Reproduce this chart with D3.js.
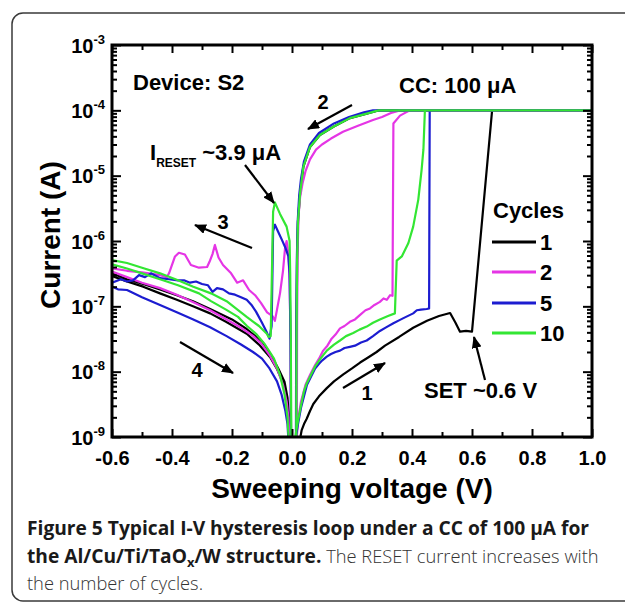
<!DOCTYPE html>
<html>
<head>
<meta charset="utf-8">
<script src="https://cdn.jsdelivr.net/npm/d3@7/dist/d3.min.js"></script>
<style>
  body { margin: 0; background: #fff; }
  text { font-family: "Liberation Sans", Arial, sans-serif; }
  text.cap, text.cap tspan { font-family: "Open Sans", "Noto Sans", sans-serif; }
</style>
</head>
<body>
<svg id="chart" width="625" height="603"></svg>
<script>
// legend entries
var cycleNames = ["1", "2", "5", "10"];
var cycleColors = ["#000000", "#e535e5", "#1c1cd0", "#33e633"];

// axis ticks
var xMajor = [-0.6, -0.4, -0.2, 0.0, 0.2, 0.4, 0.6, 0.8, 1.0];
var xMinor = [-0.5, -0.3, -0.1, 0.1, 0.3, 0.5, 0.7, 0.9];
var yDecades = [1e-9, 1e-8, 1e-7, 1e-6, 1e-5, 1e-4, 1e-3];

// [voltage (V), current (A)], in sweep order
// cycle 1 (black)
var cycle1Pos = [[0.025,6.3e-10],[0.028,1e-9],[0.032,1.26e-9],[0.04,1.58e-9],[0.049,1.9e-9],[0.06,2.5e-9],
  [0.071,3.2e-9],[0.09,4.2e-9],[0.116,5.6e-9],[0.14,7.1e-9],[0.171,9.1e-9],[0.2,1.12e-8],[0.227,1.38e-8],
  [0.255,1.66e-8],[0.282,2.0e-8],[0.31,2.5e-8],[0.357,3.4e-8],[0.404,4.7e-8],[0.45,6.0e-8],[0.49,7.1e-8],
  [0.527,7.9e-8],[0.545,5.6e-8],[0.56,4.1e-8],[0.58,4.2e-8],[0.6,4.1e-8],[0.667,1e-4],[1.0,1e-4],[0.29,1e-4],
  [0.282,9.8e-5],[0.249,8.9e-5],[0.193,7.6e-5],[0.138,5.6e-5],[0.093,4.2e-5],[0.06,2.75e-5],[0.038,1.38e-5],
  [0.027,5.4e-6],[0.02,2.0e-6],[0.017,5.0e-7],[0.015,3.2e-8],[0.014,6.3e-10]];
var cycle1Neg = [[-0.007,6.3e-10],[-0.01,2.0e-9],[-0.015,4.0e-9],[-0.025,7.0e-9],[-0.045,1.1e-8],[-0.07,1.8e-8],
  [-0.1,2.9e-8],[-0.151,4.5e-8],[-0.2,6.3e-8],[-0.273,9.1e-8],[-0.33,1.2e-7],[-0.384,1.48e-7],[-0.44,1.82e-7],
  [-0.496,2.2e-7],[-0.55,2.6e-7],[-0.6,3.2e-7],[-0.6,2.9e-7],[-0.55,2.4e-7],[-0.496,2.0e-7],[-0.44,1.58e-7],
  [-0.384,1.26e-7],[-0.33,1.0e-7],[-0.273,7.8e-8],[-0.22,5.8e-8],[-0.151,3.8e-8],[-0.11,2.6e-8],[-0.073,1.66e-8],
  [-0.05,1.1e-8],[-0.029,6.6e-9],[-0.018,4.0e-9],[-0.013,2.5e-9],[-0.009,1.41e-9],[-0.007,6.3e-10]];

// cycle 2 (magenta)
var cycle2Pos = [[0.013,6.3e-10],[0.016,1e-9],[0.02,1.78e-9],[0.03,3.5e-9],[0.045,6.3e-9],[0.06,8.9e-9],
  [0.077,1.26e-8],[0.09,1.58e-8],[0.104,2.1e-8],[0.118,2.5e-8],[0.132,3.2e-8],[0.145,3.7e-8],[0.16,4.6e-8],
  [0.175,5.0e-8],[0.193,5.8e-8],[0.21,6.3e-8],[0.227,7.4e-8],[0.245,8.7e-8],[0.26,9.3e-8],[0.275,1.05e-7],
  [0.293,1.17e-7],[0.305,1.32e-7],[0.316,1.26e-7],[0.327,1.48e-7],[0.335,1.45e-7],[0.338,6.3e-5],[0.36,8.3e-5],
  [0.38,9.3e-5],[0.393,1e-4],[1.0,1e-4],[0.36,1e-4],[0.33,9.1e-5],[0.3,7.9e-5],[0.27,7.1e-5],[0.22,5.8e-5],
  [0.17,4.7e-5],[0.13,3.7e-5],[0.1,3.0e-5],[0.08,2.5e-5],[0.06,1.78e-5],[0.045,1.17e-5],[0.035,7.6e-6],
  [0.027,4.7e-6],[0.022,2.5e-6],[0.019,7.9e-7],[0.017,6.3e-8],[0.016,6.3e-10]];
var cycle2Neg = [[-0.003,6.3e-10],[-0.005,3.2e-8],[-0.008,2.5e-7],[-0.012,6.3e-7],[-0.018,1e-6],[-0.023,7.9e-7],
  [-0.03,3.5e-7],[-0.04,1.58e-7],[-0.05,8.9e-8],[-0.057,6.0e-8],[-0.065,7.1e-8],[-0.083,8.1e-8],[-0.103,1.12e-7],
  [-0.123,1.48e-7],[-0.143,1.78e-7],[-0.163,2.5e-7],[-0.183,2.3e-7],[-0.203,3.2e-7],[-0.23,4.3e-7],[-0.245,5.6e-7],
  [-0.257,8.7e-7],[-0.265,6.3e-7],[-0.275,4.8e-7],[-0.283,4.0e-7],[-0.31,3.9e-7],[-0.337,4.3e-7],[-0.357,6.2e-7],
  [-0.377,6.6e-7],[-0.39,5.8e-7],[-0.41,3.2e-7],[-0.417,2.8e-7],[-0.44,3.0e-7],[-0.5,3.3e-7],[-0.55,3.5e-7],
  [-0.6,3.8e-7],[-0.6,3.4e-7],[-0.55,2.8e-7],[-0.5,2.3e-7],[-0.44,1.9e-7],[-0.384,1.5e-7],[-0.329,1.15e-7],
  [-0.273,8.7e-8],[-0.218,6.3e-8],[-0.17,4.7e-8],[-0.129,3.5e-8],[-0.1,2.6e-8],[-0.073,1.74e-8],[-0.05,1.12e-8],
  [-0.03,6.3e-9],[-0.018,3.5e-9],[-0.012,2.0e-9],[-0.008,6.3e-10]];

// cycle 5 (blue)
var cycle5Pos = [[0.011,6.3e-10],[0.013,1e-9],[0.02,1.58e-9],[0.03,2.8e-9],[0.05,6.3e-9],[0.077,1.12e-8],
  [0.09,1.32e-8],[0.1,1.48e-8],[0.116,1.7e-8],[0.13,1.86e-8],[0.145,2.0e-8],[0.16,2.1e-8],[0.175,2.3e-8],
  [0.193,2.4e-8],[0.21,2.5e-8],[0.23,2.8e-8],[0.249,3.0e-8],[0.27,3.5e-8],[0.293,4.2e-8],[0.315,4.8e-8],
  [0.338,5.5e-8],[0.36,6.2e-8],[0.38,6.9e-8],[0.404,7.8e-8],[0.416,8.7e-8],[0.43,8.9e-8],[0.449,9.1e-8],
  [0.457,9.3e-8],[0.459,1e-4],[1.0,1e-4],[0.27,1e-4],[0.24,9.3e-5],[0.19,7.9e-5],[0.14,6.3e-5],[0.09,4.5e-5],
  [0.06,3.0e-5],[0.04,1.66e-5],[0.03,8.9e-6],[0.024,5.0e-6],[0.019,2.0e-6],[0.016,5.0e-7],[0.014,3.2e-8],
  [0.013,6.3e-10]];
var cycle5Neg = [[-0.003,6.3e-10],[-0.005,3.2e-8],[-0.008,3.2e-7],[-0.012,5.8e-7],[-0.022,7.9e-7],[-0.034,1.05e-6],
  [-0.047,1.41e-6],[-0.057,1.78e-6],[-0.063,1.41e-6],[-0.068,5.0e-8],[-0.075,3.2e-8],[-0.084,4.0e-8],[-0.1,5.6e-8],
  [-0.12,8.3e-8],[-0.135,1.05e-7],[-0.151,1.26e-7],[-0.17,1.38e-7],[-0.19,1.51e-7],[-0.21,1.58e-7],[-0.23,1.82e-7],
  [-0.25,1.9e-7],[-0.265,1.66e-7],[-0.28,2.1e-7],[-0.3,2.2e-7],[-0.32,2.4e-7],[-0.34,2.3e-7],[-0.36,2.5e-7],
  [-0.38,2.5e-7],[-0.41,2.6e-7],[-0.44,2.7e-7],[-0.47,3.2e-7],[-0.49,2.8e-7],[-0.51,3.0e-7],[-0.53,2.5e-7],
  [-0.55,2.4e-7],[-0.57,2.6e-7],[-0.6,2.3e-7],[-0.6,2.0e-7],[-0.58,1.82e-7],[-0.55,1.78e-7],[-0.5,1.38e-7],
  [-0.44,1.05e-7],[-0.384,8.1e-8],[-0.329,6.3e-8],[-0.273,4.8e-8],[-0.218,3.5e-8],[-0.17,2.6e-8],[-0.13,2.0e-8],
  [-0.1,1.58e-8],[-0.075,1.12e-8],[-0.05,7.1e-9],[-0.035,4.5e-9],[-0.022,2.5e-9],[-0.015,1.58e-9],[-0.01,6.3e-10]];

// cycle 10 (green)
var cycle10Pos = [[0.009,6.3e-10],[0.011,1e-9],[0.018,1.58e-9],[0.027,2.6e-9],[0.04,5.0e-9],[0.049,6.6e-9],
  [0.063,8.9e-9],[0.077,1.2e-8],[0.095,1.58e-8],[0.116,2.1e-8],[0.14,2.6e-8],[0.16,3.0e-8],[0.18,3.5e-8],
  [0.204,3.9e-8],[0.225,4.4e-8],[0.249,4.9e-8],[0.27,5.6e-8],[0.293,6.3e-8],[0.32,7.1e-8],[0.343,7.8e-8],
  [0.349,5.0e-7],[0.366,5.8e-7],[0.388,9.3e-7],[0.404,1.66e-6],[0.421,4.3e-6],[0.432,1.23e-5],[0.438,2.5e-5],
  [0.443,1e-4],[1.0,1e-4],[0.29,1e-4],[0.282,9.8e-5],[0.249,8.9e-5],[0.193,7.6e-5],[0.138,5.6e-5],[0.093,4.2e-5],
  [0.06,2.75e-5],[0.038,1.38e-5],[0.027,5.4e-6],[0.02,2.0e-6],[0.017,5.0e-7],[0.015,3.2e-8],[0.014,6.3e-10]];
var cycle10Neg = [[-0.002,6.3e-10],[-0.004,3.2e-8],[-0.006,3.2e-7],[-0.008,1e-6],[-0.018,1.66e-6],[-0.04,2.6e-6],
  [-0.057,3.9e-6],[-0.063,2.8e-6],[-0.071,3.5e-8],[-0.078,3.4e-8],[-0.084,3.8e-8],[-0.11,5.0e-8],[-0.151,6.9e-8],
  [-0.218,1.2e-7],[-0.27,1.58e-7],[-0.329,2.0e-7],[-0.38,2.5e-7],[-0.44,3.2e-7],[-0.5,3.9e-7],[-0.55,4.6e-7],
  [-0.6,5.1e-7],[-0.6,4.4e-7],[-0.55,3.8e-7],[-0.5,3.2e-7],[-0.44,2.6e-7],[-0.38,2.1e-7],[-0.31,1.58e-7],
  [-0.27,1.2e-7],[-0.22,8.9e-8],[-0.18,6.9e-8],[-0.15,5.0e-8],[-0.12,3.8e-8],[-0.09,2.6e-8],[-0.06,1.58e-8],
  [-0.04,8.9e-9],[-0.025,4.5e-9],[-0.015,2.0e-9],[-0.009,6.3e-10]];

var cycles = [[cycle1Pos, cycle1Neg], [cycle2Pos, cycle2Neg], [cycle5Pos, cycle5Neg], [cycle10Pos, cycle10Neg]];

var svg = d3.select("#chart");

// card outline behind the figure
svg.append("rect")
  .attr("x", 12).attr("y", 13)
  .attr("width", 650).attr("height", 588)
  .attr("rx", 11)
  .attr("fill", "#fff")
  .attr("stroke", "#3a3a3a")
  .attr("stroke-width", 1.5);

var plot = {left: 112, right: 592, top: 45, bottom: 437};

var x = d3.scaleLinear().domain([-0.6, 1.0]).range([plot.left, plot.right]);
var y = d3.scaleLog().domain([1e-9, 1e-3]).range([plot.bottom, plot.top]);

svg.append("clipPath").attr("id", "clip")
  .append("rect")
  .attr("x", plot.left).attr("y", plot.top)
  .attr("width", plot.right - plot.left).attr("height", plot.bottom - plot.top);

var line = d3.line()
  .x(d => x(d[0]))
  .y(d => y(d[1]));

var curves = svg.append("g").attr("clip-path", "url(#clip)");
cycles.forEach(function(c, i) {
  curves.selectAll(null)
    .data(c)
    .join("path")
      .attr("d", line)
      .attr("fill", "none")
      .attr("stroke", cycleColors[i])
      .attr("stroke-width", 2.2)
      .attr("stroke-linejoin", "round");
});

// axes, all ticks pointing inward
var axisFont = "bold 20px 'Liberation Sans', Arial, sans-serif";

var bottom = svg.append("g")
  .attr("transform", "translate(0," + plot.bottom + ")")
  .call(d3.axisBottom(x).tickValues(xMajor).tickSize(-8).tickPadding(14).tickFormat(d3.format(".1f")));
svg.append("g")
  .attr("transform", "translate(0," + plot.bottom + ")")
  .call(d3.axisBottom(x).tickValues(xMinor).tickSize(-5).tickFormat(""));
svg.append("g")
  .attr("transform", "translate(0," + plot.top + ")")
  .call(d3.axisTop(x).tickValues(xMajor).tickSize(-8).tickFormat(""));
svg.append("g")
  .attr("transform", "translate(0," + plot.top + ")")
  .call(d3.axisTop(x).tickValues(xMinor).tickSize(-5).tickFormat(""));

var yMinor = [];
yDecades.slice(0, -1).forEach(function(d) {
  for (var k = 2; k <= 9; k++) yMinor.push(d * k);
});

var left = svg.append("g")
  .attr("transform", "translate(" + plot.left + ",0)")
  .call(d3.axisLeft(y).tickValues(yDecades).tickSize(-9).tickPadding(7));
svg.append("g")
  .attr("transform", "translate(" + plot.left + ",0)")
  .call(d3.axisLeft(y).tickValues(yMinor).tickSize(-5).tickFormat(""));
svg.append("g")
  .attr("transform", "translate(" + plot.right + ",0)")
  .call(d3.axisRight(y).tickValues(yDecades).tickSize(-9).tickFormat(""));
svg.append("g")
  .attr("transform", "translate(" + plot.right + ",0)")
  .call(d3.axisRight(y).tickValues(yMinor).tickSize(-5).tickFormat(""));

svg.selectAll(".domain").remove();
svg.selectAll(".tick line").attr("stroke", "#000").attr("stroke-width", 2);
svg.selectAll(".tick text").style("font", axisFont).attr("fill", "#000");

bottom.selectAll(".tick text").text(d => d3.format(".1f")(d).replace("\u2212", "-"));

left.selectAll(".tick text")
  .attr("dy", "0.35em")
  .each(function(d) {
    var t = d3.select(this);
    t.text("10");
    t.append("tspan")
      .attr("dy", -9)
      .style("font-size", "13px")
      .text(Math.round(Math.log10(d)));
  });

// frame
svg.append("rect")
  .attr("x", plot.left).attr("y", plot.top)
  .attr("width", plot.right - plot.left).attr("height", plot.bottom - plot.top)
  .attr("fill", "none")
  .attr("stroke", "#000")
  .attr("stroke-width", 3);

// axis titles
svg.append("text")
  .attr("transform", "translate(60," + ((plot.top + plot.bottom) / 2 - 6) + ") rotate(-90)")
  .attr("text-anchor", "middle")
  .style("font", "bold 28px 'Liberation Sans', Arial, sans-serif")
  .text("Current (A)");

svg.append("text")
  .attr("x", (plot.left + plot.right) / 2)
  .attr("y", 498)
  .attr("text-anchor", "middle")
  .style("font", "bold 28px 'Liberation Sans', Arial, sans-serif")
  .text("Sweeping voltage (V)");

// annotations
var labelFont = "bold 22px 'Liberation Sans', Arial, sans-serif";
svg.append("text").attr("x", 133).attr("y", 90).style("font", labelFont).text("Device: S2");
svg.append("text").attr("x", 399).attr("y", 93).style("font", labelFont).text("CC: 100 \u03bcA");
svg.append("text").attr("x", 424).attr("y", 398).style("font", labelFont).text("SET ~0.6 V");

var iReset = svg.append("text").attr("x", 150).attr("y", 160).style("font", labelFont);
iReset.append("tspan").text("I");
iReset.append("tspan").attr("dy", 7).style("font-size", "12px").text("RESET");
iReset.append("tspan").attr("dy", -7).text(" ~3.9 \u03bcA");

var arrowNums = [["1", 367, 400], ["2", 323, 109], ["3", 223, 229], ["4", 197, 377]];
svg.selectAll(null)
  .data(arrowNums)
  .join("text")
    .attr("x", d => d[1]).attr("y", d => d[2])
    .attr("text-anchor", "middle")
    .style("font", "bold 20px 'Liberation Sans', Arial, sans-serif")
    .text(d => d[0]);

svg.append("defs").append("marker")
  .attr("id", "head")
  .attr("viewBox", "0 0 12 10")
  .attr("refX", 11).attr("refY", 5)
  .attr("markerWidth", 12).attr("markerHeight", 10)
  .attr("markerUnits", "userSpaceOnUse")
  .attr("orient", "auto")
  .append("path")
    .attr("d", "M0,0 L12,5 L0,10 Z")
    .attr("fill", "#000");

var arrows = [
  [352, 105, 308, 129],
  [245, 165, 274, 203],
  [252, 248, 195, 225],
  [180, 342, 233, 373],
  [343, 388, 385, 363],
  [485, 380, 474, 337]
];
svg.selectAll(null)
  .data(arrows)
  .join("line")
    .attr("x1", d => d[0]).attr("y1", d => d[1])
    .attr("x2", d => d[2]).attr("y2", d => d[3])
    .attr("stroke", "#000")
    .attr("stroke-width", 2.2)
    .attr("marker-end", "url(#head)");

// legend
svg.append("text").attr("x", 493).attr("y", 218).style("font", labelFont).text("Cycles");
var legendY = [242, 272, 303, 333];
var legend = svg.selectAll(null)
  .data(cycleNames)
  .join("g")
    .attr("transform", (d, i) => "translate(0," + legendY[i] + ")");
legend.append("line")
  .attr("x1", 492).attr("x2", 536)
  .attr("stroke", (d, i) => cycleColors[i])
  .attr("stroke-width", 3);
legend.append("text")
  .attr("x", 540).attr("y", 8)
  .style("font", labelFont)
  .text(d => d);

// caption (bold lead-in is a touch larger than the plain text)
var cap = svg.append("g");
cap.append("text").attr("class", "cap").attr("x", 27).attr("y", 535)
  .attr("font-weight", 700).attr("fill", "#1a1a1a").style("font-size", "19.2px")
  .text("Figure 5 Typical I-V hysteresis loop under a CC of 100 \u00b5A for");
var l2 = cap.append("text").attr("class", "cap").attr("x", 27).attr("y", 563).attr("fill", "#1a1a1a");
l2.append("tspan").attr("font-weight", 700).style("font-size", "19.2px").text("the Al/Cu/Ti/TaO");
l2.append("tspan").attr("font-weight", 700).attr("dy", 4).style("font-size", "13px").text("x");
l2.append("tspan").attr("font-weight", 700).attr("dy", -4).style("font-size", "19.2px").text("/W structure.");
l2.append("tspan").attr("font-weight", 300).attr("fill", "#333").style("font-size", "18.3px")
  .text(" The RESET current increases with");
cap.append("text").attr("class", "cap").attr("x", 27).attr("y", 590)
  .attr("font-weight", 300).attr("fill", "#333").style("font-size", "18.3px")
  .text("the number of cycles.");
</script>
</body>
</html>
